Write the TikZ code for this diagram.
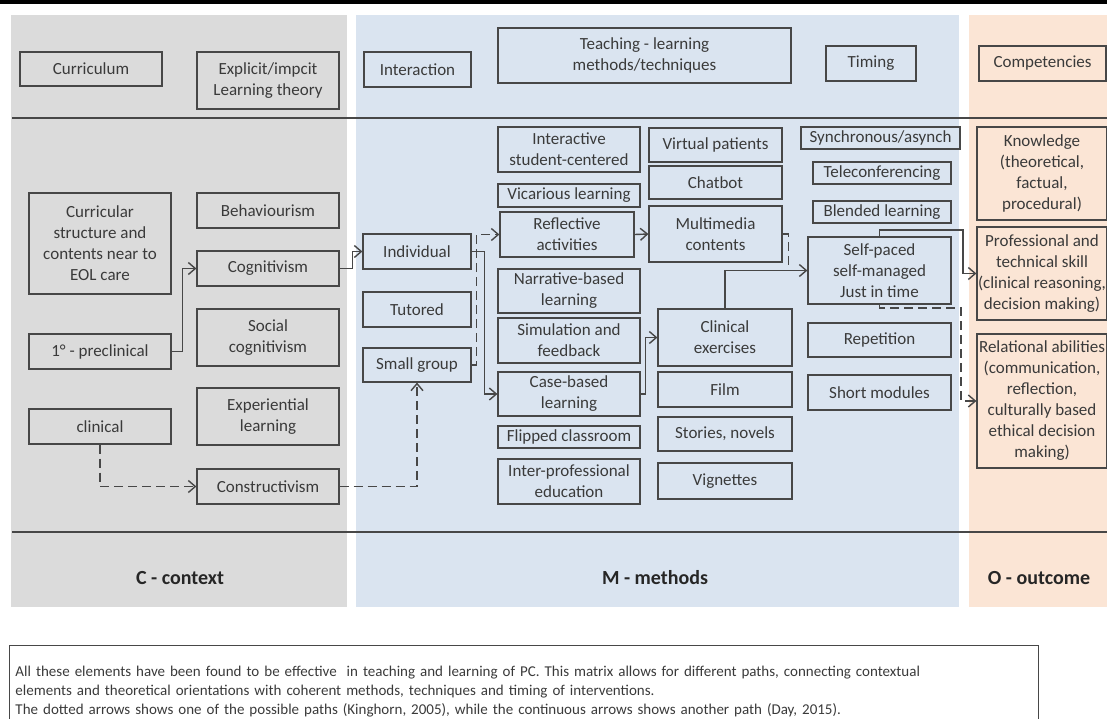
\documentclass[tikz,border=0pt]{standalone}
\usepackage{fontspec}
\setmainfont{Carlito}
\usepackage{tikz}
\usetikzlibrary{arrows.meta}
\definecolor{ctxgray}{HTML}{DBDBDB}
\definecolor{methblue}{HTML}{DAE4F0}
\definecolor{outorange}{HTML}{FBE5D5}
\definecolor{linegray}{HTML}{474747}
\definecolor{txtgray}{HTML}{3A3A3A}

\begin{document}
\begin{tikzpicture}
		[x=1pt, y=-1pt,
		>={Straight Barb[length=7pt,width=12pt]},
		box/.style={draw=linegray, line width=1.2pt, align=center, inner sep=1pt, text=txtgray, font=\fontsize{17}{21}\selectfont},
		lbl/.style={text=black!85, font=\fontsize{20}{24}\selectfont\bfseries},
		sepline/.style={draw=linegray, line width=1.4pt},
		contline/.style={draw=linegray, line width=1.4pt},
		dotline/.style={draw=linegray, line width=1.4pt, dash pattern=on 9pt off 5pt}]
		\useasboundingbox (0,0) rectangle (1107,718);
		% panels %
		\fill[ctxgray] (11,15) rectangle (347,607);
		\fill[methblue] (356,15) rectangle (959,607);
		\fill[outorange] (969,15) rectangle (1107,607);
		\draw[line width=4pt] (0,2) -- (1107,2);
		\draw[sepline] (12,118) -- (1107,118);
		\draw[sepline] (12,532) -- (1107,532);

		% header nodes %
		\node[box, minimum width=142pt, minimum height=34pt] (cur) at (91,69) {Curriculum};
		\node[box, minimum width=142pt, minimum height=57pt] (lth) at (268,80.5) {Explicit/impcit\\Learning theory};
		\node[box, minimum width=107pt, minimum height=35pt] (inter) at (417.5,69.5) {Interaction};
		\node[box, minimum width=293pt, minimum height=55pt] (tlm) at (644.5,55.5) {Teaching - learning\\methods/techniques};
		\node[box, minimum width=90pt, minimum height=35pt] (tim) at (871,63.5) {Timing};
		\node[box, minimum width=127pt, minimum height=35pt] (comp) at (1042.5,63.5) {Competencies};

		% context nodes %
		\node[box, minimum width=142pt, minimum height=101pt] (cs) at (100,243.5) {Curricular\\structure and\\contents near to\\EOL care};
		\node[box, minimum width=142pt, minimum height=35pt] (pre) at (100,351.5) {1° - preclinical};
		\node[box, minimum width=142pt, minimum height=35pt] (cl) at (100,426.5) {clinical};
		\node[box, minimum width=142pt, minimum height=35pt] (beh) at (268,210.5) {Behaviourism};
		\node[box, minimum width=142pt, minimum height=35pt] (cog) at (268,268.5) {Cognitivism};
		\node[box, minimum width=142pt, minimum height=57pt] (soc) at (268,337.5) {Social\\cognitivism};
		\node[box, minimum width=142pt, minimum height=57pt] (exp) at (268,416.5) {Experiential\\learning};
		\node[box, minimum width=142pt, minimum height=35pt] (con) at (268,486.5) {Constructivism};

		% method nodes %
		\node[box, minimum width=108pt, minimum height=35pt] (ind) at (417,251.5) {Individual};
		\node[box, minimum width=108pt, minimum height=35pt] (tut) at (417,309.5) {Tutored};
		\node[box, minimum width=108pt, minimum height=34pt] (sg) at (417,365) {Small group};

		\node[box, minimum width=142pt, minimum height=45pt] (isc) at (569,149.5) {Interactive\\student-centered};
		\node[box, minimum width=142pt, minimum height=23pt] (vic) at (569,195.5) {Vicarious learning};
		\node[box, minimum width=134pt, minimum height=45pt] (ref) at (567,234.5) {Reflective\\activities};
		\node[box, minimum width=142pt, minimum height=44pt] (nar) at (569,291) {Narrative-based\\learning};
		\node[box, minimum width=142pt, minimum height=45pt] (sim) at (569,340.5) {Simulation and\\feedback};
		\node[box, minimum width=142pt, minimum height=44pt] (cb) at (569,394) {Case-based\\learning};
		\node[box, minimum width=142pt, minimum height=22pt] (fc) at (569,437) {Flipped classroom};
		\node[box, minimum width=142pt, minimum height=45pt] (ipe) at (569,481.5) {Inter-professional\\education};

		\node[box, minimum width=133pt, minimum height=34pt] (vp) at (715.5,145) {Virtual patients};
		\node[box, minimum width=133pt, minimum height=33pt] (chat) at (715.5,182.5) {Chatbot};
		\node[box, minimum width=133pt, minimum height=56pt] (mm) at (715.5,234) {Multimedia\\contents};
		\node[box, minimum width=134pt, minimum height=57pt] (ce) at (725,337.5) {Clinical\\exercises};
		\node[box, minimum width=134pt, minimum height=35pt] (film) at (725,389.5) {Film};
		\node[box, minimum width=134pt, minimum height=34pt] (sto) at (725,434) {Stories, novels};
		\node[box, minimum width=134pt, minimum height=36pt] (vig) at (725,481) {Vignettes};

		\node[box, minimum width=159pt, minimum height=22pt] (syn) at (880.5,138) {Synchronous/asynch};
		\node[box, minimum width=138pt, minimum height=22pt] (tel) at (882,173) {Teleconferencing};
		\node[box, minimum width=138pt, minimum height=22pt] (bl) at (882,212) {Blended learning};
		\node[box, minimum width=143pt, minimum height=67pt] (sp) at (879.5,270.5) {Self-paced\\self-managed\\Just in time};
		\node[box, minimum width=143pt, minimum height=34pt] (rep) at (879.5,340) {Repetition};
		\node[box, minimum width=143pt, minimum height=35pt] (sm) at (879.5,392.5) {Short modules};

		% outcome nodes %
		\node[box, minimum width=130pt, minimum height=93pt] (kn) at (1042,173.5) {Knowledge\\(theoretical,\\factual,\\procedural)};
		\node[box, minimum width=130pt, minimum height=93pt] (prof) at (1042,273.5) {Professional and\\technical skill\\(clinical reasoning,\\decision making)};
		\node[box, minimum width=130pt, minimum height=134pt] (rel) at (1042,401) {Relational abilities\\(communication,\\reflection,\\culturally based\\ethical decision\\making)};

		% bottom labels %
		\node[lbl] (cctx) at (180,578) {C - context};
		\node[lbl] (mmeth) at (655,578) {M - methods};
		\node[lbl] (oout) at (1039,578) {O - outcome};

		% note %
		\node[draw=linegray, line width=1pt, anchor=north west, text width=1017pt, inner xsep=6pt, inner ysep=4pt, align=left, text=txtgray, font=\fontsize{15}{19}\selectfont] (note) at (9,645)
			{\rule{0pt}{27pt}All these elements have been found to be effective\ \ in teaching and learning of PC. This matrix allows for different paths, connecting contextual\\
			elements and theoretical orientations with coherent methods, techniques and timing of interventions.\\
			The dotted arrows shows one of the possible paths (Kinghorn, 2005), while the continuous arrows shows another path (Day, 2015).};

		% continuous edges %
		\draw[contline, ->] (pre.east) -| ([xshift=-14pt]cog.west) -- (cog.west);
		\draw[contline, ->] (cog.east) -| ([xshift=-10pt]ind.west) -- (ind.west);
		\draw[contline, ->] (ind.east) -| ([xshift=-13pt]cb.west) -- (cb.west);
		\draw[contline, ->] (cb.east) -| ([xshift=-12pt]ce.west) -- (ce.west);
		\draw[contline, ->] (ce.north) |- (sp.west);
		\coordinate (sptop) at (963,230);
		\draw[contline, ->] (sp.north) |- (sptop) |- (prof.west);

		% dotted edges %
		\draw[dotline, ->] (cl.south) |- (con.west);
		\draw[dotline, ->] (con.east) -| (sg.south);
		\draw[dotline, ->] (sg.east) -| ([xshift=-23pt]ref.west) -- (ref.west);
		\draw[contline, ->] (ref.east) -- (mm.west);
		\draw[dotline] (mm.east) -| ([xshift=-19pt]sp.west);
		\coordinate (spbot) at (961,308);
		\draw[dotline, ->] (sp.south) |- (spbot) |- (rel.west);
		\end{tikzpicture}
\end{document}
